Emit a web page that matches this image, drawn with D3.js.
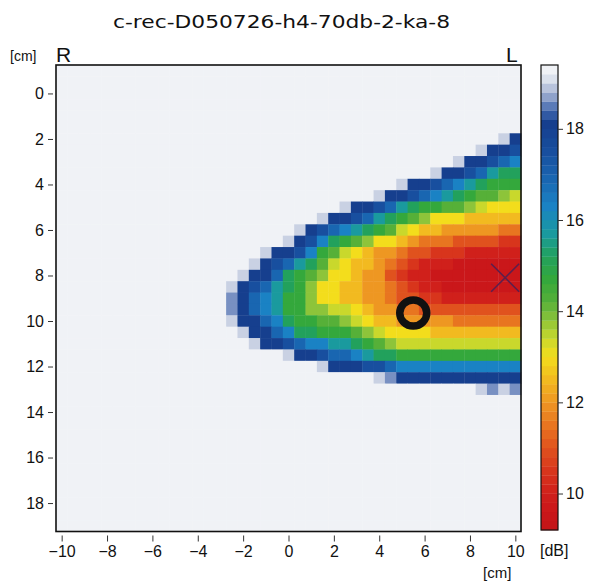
<!DOCTYPE html>
<html>
<head>
<meta charset="utf-8">
<script src="https://cdn.jsdelivr.net/npm/d3@7"></script>
<style>
  body { margin: 0; background: #fff; }
  text { font-family: "Liberation Sans", Arial, sans-serif; fill: #111; }
  .tick line { stroke: #333; }
</style>
</head>
<body>
<div id="wrapper"></div>
<script>
const title = "c-rec-D050726-h4-70db-2-ka-8"

// cell centres [cm]
const xCm = [-10, -9.5, -9, -8.5, -8, -7.5, -7, -6.5, -6, -5.5, -5, -4.5, -4, -3.5, -3, -2.5, -2, -1.5, -1, -0.5,
  0, 0.5, 1, 1.5, 2, 2.5, 3, 3.5, 4, 4.5, 5, 5.5, 6, 6.5, 7, 7.5, 8, 8.5, 9, 9.5, 10]
const yCm = [-1, -0.5, 0, 0.5, 1, 1.5, 2, 2.5, 3, 3.5, 4, 4.5, 5, 5.5, 6, 6.5, 7, 7.5, 8, 8.5,
  9, 9.5, 10, 10.5, 11, 11.5, 12, 12.5, 13, 13.5, 14, 14.5, 15, 15.5, 16, 16.5, 17, 17.5, 18, 18.5, 19]

// one character per cell, looked up in levelDb
const levelCodes = ".0123456789abcdefghij"
const levelDb = [19.3, 19.0, 18.6, 18.1, 17.5, 16.9, 16.3, 15.7, 15.2, 14.7, 14.2,
  13.8, 13.4, 13.0, 12.5, 12.0, 11.5, 11.0, 10.5, 10.0, 9.6]

const gridRows = [
  ".........................................",
  ".........................................",
  ".........................................",
  ".........................................",
  ".........................................",
  ".........................................",
  "......................................." + "02",
  "....................................." + "0223",
  "..................................." + "022345",
  "................................." + "02234677",
  ".............................." + "02234567888",
  "............................" + "02234567899ab",
  "........................." + "02234678899abccc",
  "......................." + "022346789acccddddd",
  "....................." + "023456789bcddeeeeeff",
  "...................." + "0235789accdefffgggghh",
  ".................." + "0223589bcdeefgghhhiiiii",
  "................." + "0234679bcddefghiiijjjjjj",
  "................" + "0224789accdeeghiijjjjjjjj",
  "..............." + "0234678accddeefghiijjjjjjj",
  "..............." + "1245688accddeefgghhiiiiiii",
  "..............." + "1245688aabbcdeeffggggggggg",
  "..............." + "0224578899abcddeeeeeffffff",
  "................" + "02245778889abccccdddddddd",
  "................." + "022345566789abbbbbbbbbbb",
  "...................." + "022344567788888888888",
  "......................." + "022233455555555555",
  "............................" + "0122222222222",
  "....................................." + "0101",
  ".........................................",
  ".........................................",
  ".........................................",
  ".........................................",
  ".........................................",
  ".........................................",
  ".........................................",
  ".........................................",
  ".........................................",
  ".........................................",
  ".........................................",
  "........................................."
]

const xTicks = [-10, -8, -6, -4, -2, 0, 2, 4, 6, 8, 10]
const yTicks = [0, 2, 4, 6, 8, 10, 12, 14, 16, 18]
const dbTicks = [10, 12, 14, 16, 18]
const dbRange = [9.2, 19.4]

const markers = [
  { label: "O", x: 5.5, y: 9.65 },
  { label: "X", x: 9.55, y: 8.1 }
]

function drawChart() {
  const dimensions = {
    width: 597,
    height: 586,
    plot: { left: 56, right: 521, top: 65, bottom: 531.5 },
    bar: { left: 541, right: 558, top: 65, bottom: 530 }
  }

  const colorStops = [
    [9.2, "#c31418"], [9.6, "#ca171a"], [10.0, "#d0201b"], [10.5, "#d8351c"],
    [11.0, "#e0521e"], [11.5, "#e87520"], [12.0, "#ee9722"], [12.5, "#f2ba20"],
    [13.0, "#f3dd1c"], [13.4, "#c9d82c"], [13.8, "#8dc43a"], [14.2, "#56b038"],
    [14.7, "#34a83c"], [15.2, "#22a15c"], [15.7, "#1a9a9e"], [16.3, "#1a82c4"],
    [16.9, "#1966b1"], [17.5, "#184f9f"], [18.1, "#163f8e"], [18.4, "#3e66ad"],
    [18.6, "#7890c2"], [18.8, "#a6b4d4"], [19.0, "#c9d1e3"], [19.2, "#edf0f5"],
    [19.4, "#f2f4f7"]
  ]
  const color = d3.scaleLinear()
    .domain(colorStops.map(d => d[0]))
    .range(colorStops.map(d => d[1]))
    .interpolate(d3.interpolateRgb)
    .clamp(true)

  const cells = []
  gridRows.forEach((row, j) => {
    row.split("").forEach((ch, i) => {
      cells.push({ x: xCm[i], y: yCm[j], db: levelDb[levelCodes.indexOf(ch)] })
    })
  })

  const svg = d3.select("#wrapper")
    .append("svg")
      .attr("width", dimensions.width)
      .attr("height", dimensions.height)

  const xScale = d3.scaleLinear()
    .domain([-10.25, 10.25])
    .range([dimensions.plot.left, dimensions.plot.right])
  const yScale = d3.scaleLinear()
    .domain([-1.25, 19.25])
    .range([dimensions.plot.top, dimensions.plot.bottom])
  const cellW = xScale(0.5) - xScale(0)
  const cellH = yScale(0.5) - yScale(0)

  // heatmap
  svg.append("g")
    .selectAll("rect")
    .data(cells)
    .enter().append("rect")
      .attr("x", d => xScale(d.x - 0.25))
      .attr("y", d => yScale(d.y - 0.25))
      .attr("width", cellW + 0.4)
      .attr("height", cellH + 0.4)
      .attr("fill", d => color(d.db))

  // markers
  const o = markers.find(d => d.label == "O")
  svg.append("ellipse")
    .attr("cx", xScale(o.x))
    .attr("cy", yScale(o.y))
    .attr("rx", 13.5)
    .attr("ry", 13)
    .attr("fill", "none")
    .attr("stroke", "#111")
    .attr("stroke-width", 7.5)

  const xm = markers.find(d => d.label == "X")
  const s = 14
  const cx = xScale(xm.x), cy = yScale(xm.y)
  svg.append("path")
    .attr("d", `M${cx - s},${cy - s}L${cx + s},${cy + s}M${cx - s},${cy + s}L${cx + s},${cy - s}`)
    .attr("stroke", "#5e1f4c")
    .attr("stroke-width", 1.6)
    .attr("fill", "none")

  // frame
  svg.append("rect")
    .attr("x", dimensions.plot.left)
    .attr("y", dimensions.plot.top)
    .attr("width", dimensions.plot.right - dimensions.plot.left)
    .attr("height", dimensions.plot.bottom - dimensions.plot.top)
    .attr("fill", "none")
    .attr("stroke", "#111")
    .attr("stroke-width", 1.6)

  // axes
  const xAxis = svg.append("g")
    .attr("transform", `translate(0, ${dimensions.plot.bottom + 4})`)
    .call(d3.axisBottom(xScale).tickValues(xTicks).tickSize(6).tickPadding(4))
  xAxis.select(".domain").remove()
  xAxis.selectAll("text").style("font-size", "16px")

  const yAxis = svg.append("g")
    .attr("transform", `translate(${dimensions.plot.left - 3}, 0)`)
    .call(d3.axisLeft(yScale).tickValues(yTicks).tickSize(5).tickPadding(4))
  yAxis.select(".domain").remove()
  yAxis.selectAll("text").style("font-size", "16px")

  // colour bar
  const barScale = d3.scaleLinear()
    .domain(dbRange)
    .range([dimensions.bar.bottom, dimensions.bar.top])
  const steps = d3.range(dbRange[0], dbRange[1] - 0.001, 0.2)
  svg.append("g")
    .selectAll("rect")
    .data(steps)
    .enter().append("rect")
      .attr("x", dimensions.bar.left)
      .attr("y", d => barScale(d + 0.2))
      .attr("width", dimensions.bar.right - dimensions.bar.left)
      .attr("height", barScale(0) - barScale(0.2) + 0.3)
      .attr("fill", d => color(d + 0.1))
  svg.append("rect")
    .attr("x", dimensions.bar.left)
    .attr("y", dimensions.bar.top)
    .attr("width", dimensions.bar.right - dimensions.bar.left)
    .attr("height", dimensions.bar.bottom - dimensions.bar.top)
    .attr("fill", "none")
    .attr("stroke", "#111")
    .attr("stroke-width", 1.2)

  const barAxis = svg.append("g")
    .attr("transform", `translate(${dimensions.bar.right}, 0)`)
    .call(d3.axisRight(barScale).tickValues(dbTicks).tickSize(5).tickPadding(3))
  barAxis.select(".domain").remove()
  barAxis.selectAll("text").style("font-size", "16px")

  // labels
  svg.append("text")
    .text(title)
    .attr("x", 113)
    .attr("y", 28)
    .attr("textLength", 337)
    .attr("lengthAdjust", "spacingAndGlyphs")
    .style("font-family", "'DejaVu Sans', sans-serif")
    .style("font-size", "18px")

  svg.append("text").text("[cm]").attr("x", 10).attr("y", 61).style("font-size", "14px")
  svg.append("text").text("R").attr("x", 56).attr("y", 62).style("font-size", "21px")
  svg.append("text").text("L").attr("x", 506).attr("y", 62).style("font-size", "21px")
  svg.append("text").text("[cm]").attr("x", 483).attr("y", 578).style("font-size", "15px")
  svg.append("text").text("[dB]").attr("x", 540).attr("y", 556).style("font-size", "16px")
}

drawChart()
</script>
</body>
</html>
